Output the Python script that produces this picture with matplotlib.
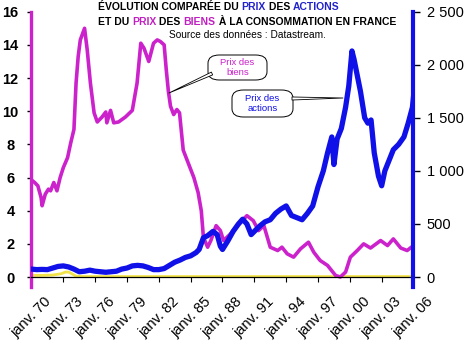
import matplotlib
matplotlib.use("Agg")
import matplotlib.pyplot as plt
from matplotlib.patches import FancyBboxPatch, FancyArrowPatch

# ---------------- data ----------------
years_biens = [1970.0, 1970.3, 1970.6, 1970.9, 1971.0, 1971.3, 1971.6, 1971.8, 1972.1, 1972.4,
               1972.7, 1973.0, 1973.4, 1973.7, 1974.0, 1974.2, 1974.4, 1974.6, 1975.0, 1975.25,
               1975.55, 1975.9, 1976.2, 1976.65, 1977.0, 1977.1, 1977.45, 1977.75, 1978.2, 1978.85,
               1979.5, 1979.95, 1980.3, 1980.6, 1981.05, 1981.5, 1981.85, 1982.15, 1982.5, 1982.7,
               1982.9, 1983.1, 1983.4, 1983.7, 1983.95, 1984.3, 1985.3, 1985.7, 1986.0, 1986.2,
               1986.6, 1986.9, 1987.4, 1987.8, 1988.1, 1988.75, 1989.7, 1990.3, 1990.9, 1991.4,
               1991.9, 1992.5, 1993.2, 1993.6, 1994.1, 1994.7, 1995.35, 1996.1, 1996.6, 1997.2,
               1997.9, 1998.65, 1999.1, 1999.6, 2000.05, 2000.7, 2001.3, 2001.95, 2002.9, 2003.55,
               2004.1, 2004.8, 2005.4, 2006.0]
prix_biens = [5.85, 5.7, 5.5, 4.8, 4.3, 5.0, 5.3, 5.2, 5.7, 5.2,
              6.0, 6.6, 7.2, 8.1, 8.9, 11.7, 13.3, 14.3, 15.0, 13.7,
              11.7, 9.9, 9.35, 9.65, 9.95, 9.3, 10.05, 9.3, 9.35, 9.65,
              10.05, 11.7, 14.1, 13.8, 13.0, 14.1, 14.3, 14.2, 14.0, 12.5,
              11.2, 10.3, 9.8, 10.1, 9.9, 7.65, 6.0, 5.1, 4.0, 2.4,
              1.8, 2.2, 3.1, 2.8, 2.2, 2.6, 3.3, 3.7, 3.4, 2.8,
              3.1, 1.8, 1.6, 1.8, 1.4, 1.2, 1.7, 2.1, 1.5, 1.0,
              0.7, 0.1, 0.0, 0.3, 1.2, 1.6, 2.0, 1.75, 2.2, 1.9,
              2.3, 1.75, 1.6, 1.9]

years_actions = [1970.0, 1970.5, 1971.0, 1971.5, 1972.0, 1972.5, 1973.0, 1973.5, 1974.0, 1974.5,
                 1975.0, 1975.5, 1976.0, 1976.5, 1977.0, 1977.5, 1978.0, 1978.5, 1979.0, 1979.5,
                 1980.0, 1980.5, 1981.0, 1981.5, 1982.0, 1982.5, 1983.0, 1983.5, 1984.0, 1984.5,
                 1985.0, 1985.5, 1985.8, 1986.2, 1986.6, 1987.1, 1987.5, 1987.8, 1988.0, 1988.5,
                 1989.0, 1989.5, 1989.9, 1990.3, 1990.7, 1991.0, 1991.5, 1992.0, 1992.5, 1993.0,
                 1993.5, 1994.0, 1994.5, 1995.0, 1995.5, 1996.0, 1996.5, 1997.0, 1997.5, 1997.9,
                 1998.3, 1998.5, 1998.8, 1999.2, 1999.6, 1999.9, 2000.2, 2000.4, 2000.6, 2001.0,
                 2001.4, 2001.7, 2002.0, 2002.3, 2002.7, 2003.0, 2003.3, 2003.7, 2004.1, 2004.6,
                 2005.1, 2005.5, 2005.9, 2006.0]
prix_actions = [75, 70, 72, 70, 85, 100, 105, 95, 75, 50,
                55, 65, 55, 50, 45, 50, 55, 75, 85, 105,
                110, 105, 90, 70, 70, 80, 110, 140, 160, 185,
                200, 230, 260, 370, 390, 430, 400, 290, 260, 340,
                430, 500, 545, 500, 400, 430, 480, 520, 540, 600,
                640, 670, 580, 560, 540, 600, 670, 850, 1000, 1170,
                1320, 1060, 1300, 1400, 1600, 1800, 2130, 2050, 1950, 1750,
                1500, 1450, 1480, 1170, 950, 860, 1000, 1100, 1200, 1250,
                1320, 1450, 1600, 1700]

years_autre = [1970.0, 1971.0, 1972.0, 1972.8, 1973.2, 1973.5, 1973.8, 1974.2, 1975.0, 1990.0, 2006.0]
autre = [0.10, 0.10, 0.12, 0.20, 0.30, 0.30, 0.20, 0.05, 0.03, 0.03, 0.03]

tick_years = list(range(1970, 2007, 3))
tick_labels = ["janv. %02d" % (y % 100) for y in tick_years]
left_ticks = [0, 2, 4, 6, 8, 10, 12, 14, 16]
right_ticks = [0, 500, 1000, 1500, 2000, 2500]
right_labels = ["0", "500", "1 000", "1 500", "2 000", "2 500"]

MAGENTA = "#CC22CC"
BLUE = "#1010E8"

W, H = 467, 350
fig = plt.figure(figsize=(W / 100, H / 100), dpi=100)
fig.patch.set_facecolor("white")

# axes geometry (pixels)
x_left, x_right, y_top, y_bot = 31.5, 413.5, 11.7, 287.0
ax1 = fig.add_axes([x_left / W, 1 - y_bot / H, (x_right - x_left) / W, (y_bot - y_top) / H])
ax1.set_xlim(1970, 2006)
ax1.set_ylim(-0.6, 16)
ax2 = ax1.twinx()
ax2.set_ylim(-0.6 / 16 * 2500, 2500)
ax1.patch.set_visible(False)

ax1.plot(years_autre, autre, color="#F2E24A", lw=2.0, zorder=1)
ax1.plot(years_biens, prix_biens, color=MAGENTA, lw=2.6, solid_joinstyle="round", zorder=2)
ax2.plot(years_actions, prix_actions, color=BLUE, lw=3.8, solid_joinstyle="round", zorder=2)

# spines
for s in ["top", "right"]:
    ax1.spines[s].set_visible(False)
for s in ["top", "left", "bottom"]:
    ax2.spines[s].set_visible(False)
ax1.spines["left"].set_color(MAGENTA)
ax1.spines["left"].set_linewidth(2.4)
ax2.spines["right"].set_color(BLUE)
ax2.spines["right"].set_linewidth(3.0)
ax1.spines["bottom"].set_position(("data", 0))
ax1.spines["bottom"].set_color("black")
ax1.spines["bottom"].set_linewidth(0.9)
ax1.spines["bottom"].set_zorder(3)

# ticks
ax1.set_xticks(tick_years)
ax1.set_xticklabels(tick_labels, rotation=45, ha="center", va="top",
                    fontfamily="Liberation Sans", fontsize=10.5)
ax1.tick_params(axis="x", direction="out", length=3.5, width=0.8, color="black", pad=9)
ax1.set_yticks(left_ticks)
ax1.set_yticklabels([str(v) for v in left_ticks], fontfamily="Liberation Sans",
                    fontweight="bold", fontsize=10.5, ha="center")
ax1.tick_params(axis="y", direction="out", length=3, width=1.0, color="black", pad=12)
ax2.set_yticks(right_ticks)
ax2.set_yticklabels(right_labels, fontfamily="Liberation Sans", fontsize=10.5, ha="left")
ax2.tick_params(axis="y", direction="out", length=5, width=1.0, color="black", pad=4.5)
ax2.tick_params(axis="x", length=0, labelbottom=False)

# ---------------- callouts ----------------
def px_to_ax(px, py):
    return ((px - x_left) / (x_right - x_left), (y_bot - py) / (y_bot - y_top))

def callout(box, tip, base, text, color):
    (bx0, by0, bx1, by1) = box
    a0 = px_to_ax(bx0, by1)
    a1 = px_to_ax(bx1, by0)
    patch = FancyBboxPatch(a0, a1[0] - a0[0], a1[1] - a0[1],
                           boxstyle="round,pad=0,rounding_size=0.03",
                           transform=ax2.transAxes, facecolor="white",
                           edgecolor="black", lw=0.7, zorder=5, clip_on=False)
    ax2.add_patch(patch)
    arr = FancyArrowPatch(px_to_ax(*base), px_to_ax(*tip),
                          arrowstyle="wedge,tail_width=2.2", mutation_scale=1,
                          transform=ax2.transAxes, facecolor="white",
                          edgecolor="black", lw=0.6, zorder=6, clip_on=False,
                          shrinkA=0, shrinkB=0)
    ax2.add_patch(arr)
    cx, cy = px_to_ax((bx0 + bx1) / 2, (by0 + by1) / 2)
    ax2.text(cx, cy, text, transform=ax2.transAxes, ha="center", va="center",
             color=color, fontsize=6.8, fontfamily="Liberation Sans",
             linespacing=1.15, zorder=7)

callout((208, 55, 267, 80), (169, 93), (212, 73.5), "Prix des\nbiens", MAGENTA)
callout((232, 90, 293, 117), (343, 98), (292, 98.5), "Prix des\nactions", BLUE)

# ---------------- title ----------------
fig.canvas.draw()
renderer = fig.canvas.get_renderer()

def text_width(s, **kw):
    t = fig.text(0, 0, s + "I", **kw)
    w = t.get_window_extent(renderer).width
    t.remove()
    t2 = fig.text(0, 0, "I", **kw)
    w2 = t2.get_window_extent(renderer).width
    t2.remove()
    return w - w2

def colored_line(x_px, y_px, parts, **kw):
    prefix = ""
    for s, c in parts:
        off = text_width(prefix, **kw) if prefix else 0.0
        fig.text((x_px + off) / W, 1 - y_px / H, s, color=c, ha="left", va="center", **kw)
        prefix += s

tkw = dict(fontfamily="Liberation Sans", fontweight="bold", fontsize=7.5)
TB = "#2222CC"
TM = "#C020C0"
colored_line(98, 7.5, [("ÉVOLUTION COMPARÉE DU ", "black"), ("PRIX", TB), (" DES ", "black"),
                       ("ACTIONS", TB)], **tkw)
colored_line(98, 22, [("ET DU ", "black"), ("PRIX", TM), (" DES ", "black"), ("BIENS", TM),
                      (" À LA CONSOMMATION EN FRANCE", "black")], **tkw)
fig.text(247 / W, 1 - 35.5 / H, "Source des données : Datastream.", ha="center", va="center",
         fontfamily="Liberation Sans", fontsize=7.3, color="black")

fig.savefig("out.png", dpi=100, facecolor="white")
